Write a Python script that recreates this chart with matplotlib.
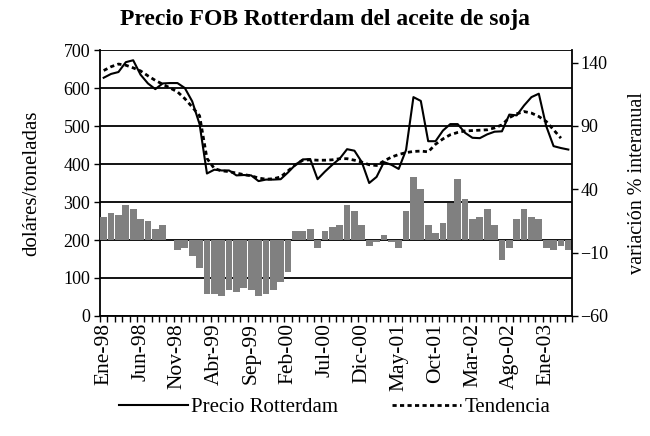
import matplotlib
matplotlib.use("Agg")
import matplotlib.pyplot as plt
import numpy as np

plt.rcParams['font.family'] = ['Liberation Serif', 'DejaVu Serif']

# Ene-98 .. Abr-03, monthly
meses = ["Ene", "Feb", "Mar", "Abr", "May", "Jun", "Jul", "Ago", "Sep", "Oct", "Nov", "Dic"]
etiquetas = [f"{meses[i % 12]}-{(98 + i // 12) % 100:02d}" for i in range(64)]

precio = [627, 637, 642, 668, 673, 635, 612, 597, 612, 613,
          613, 600, 565, 505, 375, 385, 383, 383, 370, 371,
          370, 355, 359, 359, 360, 378, 398, 412, 413, 360,
          380, 398, 414, 439, 435, 405, 350, 366, 405, 398,
          387, 437, 576, 566, 460, 460, 488, 505, 505, 482,
          469, 468, 478, 485, 486, 530, 528, 554, 576, 585,
          500, 447, 442, 438]

tendencia = [646, 656, 663, 660, 653, 645, 632, 620, 610, 600,
             590, 572, 550, 527, 415, 388, 382, 380, 376, 372,
             369, 363, 360, 361, 366, 382, 398, 410, 411, 410,
             410, 411, 414, 414, 410, 405, 398, 396, 408, 418,
             425, 430, 433, 434, 432, 452, 466, 477, 483, 487,
             488, 489, 490, 495, 503, 522, 532, 538, 534, 525,
             512, 490, 468, np.nan]

variacion = [18.1, 21.3, 19.7, 27.6, 24.4, 16.5, 15.0, 8.7, 11.8, 0.3,
             -8.1, -6.6, -12.9, -22.3, -42.8, -42.8, -44.4, -39.6, -41.2, -38.1,
             -39.6, -44.4, -42.8, -39.6, -33.3, -24.9, 6.8, 6.8, 8.4, -6.0,
             6.8, 10.0, 11.6, 27.3, 22.6, 11.6, -4.7, -1.6, 3.7, -1.6,
             -6.0, 22.6, 49.4, 39.9, 11.7, 5.4, 13.3, 29.0, 48.0, 32.2,
             16.4, 18.0, 24.3, 11.7, -15.6, -6.1, 16.4, 24.3, 18.0, 16.4,
             -6.1, -7.7, -4.6, -7.7]

x = np.arange(len(etiquetas))

fig = plt.figure(figsize=(6.5, 4.36), dpi=100)
rect = [100 / 650, 1 - 316 / 436, 472 / 650, 266 / 436]

# base axes: left scale + gridlines
ax = fig.add_axes(rect)
ax.set_zorder(0)
ax.set_xlim(-0.5, len(x) - 0.5)
ax.set_ylim(0, 700)
ax.set_yticks(np.arange(0, 701, 100))
ax.yaxis.grid(True, color='black', linewidth=1.3)
ax.set_axisbelow(True)
ax.tick_params(axis='y', direction='out', length=4, width=1, labelsize=13, pad=3)
ax.set_xticks(x[::5])
ax.set_xticklabels(etiquetas[::5], rotation=90)
ax.set_xticks(np.arange(-0.5, len(x), 1), minor=True)
ax.tick_params(axis='x', which='major', length=0, labelsize=15.5, pad=5)
ax.tick_params(axis='x', which='minor', direction='out', length=4, width=1)
ax.spines['top'].set_visible(False)
ax.spines['right'].set_visible(False)
for s in ['left', 'bottom']:
    ax.spines[s].set_linewidth(1.3)
ax.set_ylabel('doláres/toneladas', fontsize=15, labelpad=16)

# bars on the right scale
ax2 = ax.twinx()
ax2.set_zorder(1)
ax2.patch.set_visible(False)
ax2.bar(x, variacion, width=0.9, color='#808080', edgecolor='none')
ax2.set_ylim(-60, 150)
ax2.set_yticks([-60, -10, 40, 90, 140])
ax2.tick_params(axis='y', direction='out', length=4, width=1, labelsize=13, pad=2)
ax2.spines['right'].set_linewidth(1.3)
ax2.spines['top'].set_visible(False)
ax2.spines['left'].set_visible(False)
ax2.spines['bottom'].set_visible(False)
ax2.set_ylabel('variación % interanual', fontsize=14.5, labelpad=14)

# lines on top
ax3 = ax.twinx()
ax3.set_zorder(2)
ax3.patch.set_visible(False)
ax3.set_ylim(0, 700)
ax3.set_yticks([])
for s in ax3.spines.values():
    s.set_visible(False)
l1, = ax3.plot(x, precio, color='black', linewidth=1.5, label='Precio Rotterdam')
l2, = ax3.plot(x, tendencia, color='black', linewidth=2, linestyle=(0, (1.5, 1.2)),
               label='Tendencia')

fig.suptitle('Precio FOB Rotterdam del aceite de soja', fontsize=17, fontweight='bold',
             x=0.5, y=0.98)
fig.legend(handles=[l1, l2], loc='center', bbox_to_anchor=(0.515, 0.065), ncol=2,
           frameon=False, fontsize=15, handlelength=3.3, columnspacing=2.6, handletextpad=0.15)

fig.savefig('out.png', dpi=100)
